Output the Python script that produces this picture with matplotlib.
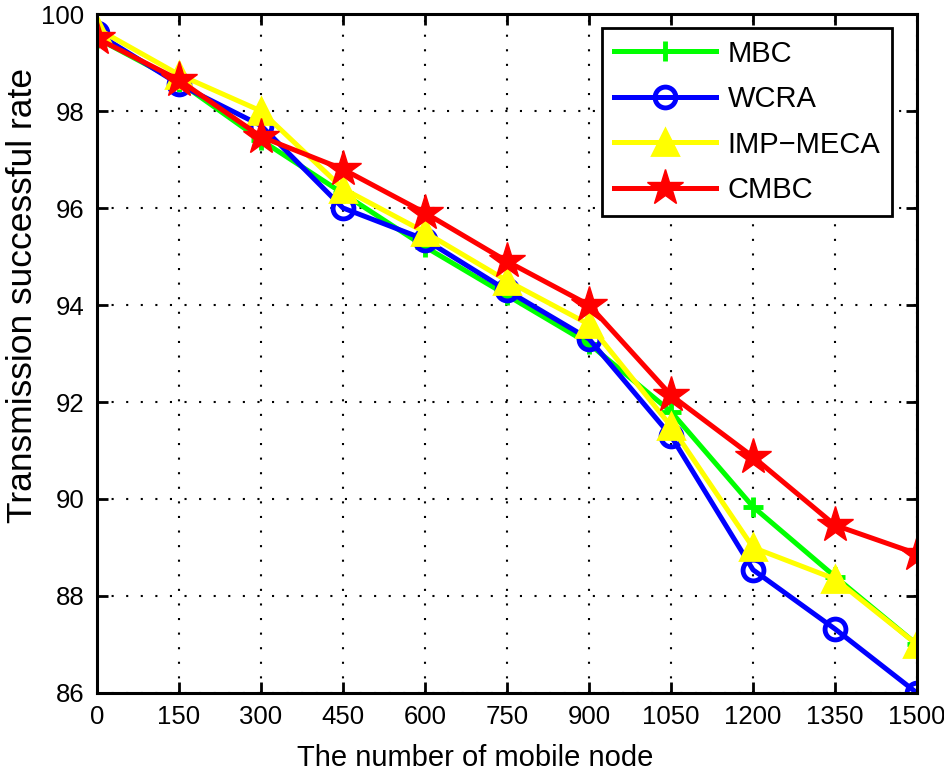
import matplotlib
matplotlib.use('Agg')
import matplotlib.pyplot as plt

plt.rcParams['font.family'] = ['Liberation Sans', 'DejaVu Sans']

# number of mobile nodes
nodes = [0, 150, 300, 450, 600, 750, 900, 1050, 1200, 1350, 1500]

# transmission successful rate per scheme
mbc = [99.5, 98.6, 97.4, 96.3, 95.2, 94.2, 93.2, 91.8, 89.84, 88.4, 87.0]
wcra = [99.6, 98.55, 97.7, 96.0, 95.35, 94.3, 93.3, 91.3, 88.54, 87.32, 86.0]
imp_meca = [99.7, 98.75, 98.0, 96.4, 95.5, 94.5, 93.6, 91.5, 89.0, 88.35, 87.0]
cmbc = [99.5, 98.64, 97.47, 96.8, 95.9, 94.9, 94.0, 92.14, 90.87, 89.46, 88.87]

fig = plt.figure(figsize=(9.44, 7.84), dpi=100)
ax = fig.add_axes([0.1028, 0.1161, 0.8686, 0.866])

lw = 3.6
ax.plot(nodes, mbc, color='#00ff00', lw=lw, marker='+', ms=15, mew=3.5, label='MBC')
ax.plot(nodes, wcra, color='#0000ff', lw=lw, marker='o', ms=15, mew=3.5,
        mfc='none', label='WCRA')
ax.plot(nodes, imp_meca, color='#ffff00', lw=lw, marker='^', ms=19, mew=2,
        label='IMP\u2212MECA')
ax.plot(nodes, cmbc, color='#ff0000', lw=lw, marker='*', ms=27, mew=1,
        label='CMBC')

ax.set_xlim(0, 1500)
ax.set_ylim(86, 100)
ax.set_xticks(nodes)
ax.set_yticks(range(86, 101, 2))
ax.tick_params(direction='in', length=8, width=2, labelsize=18.5,
               top=True, right=True, pad=9)
for s in ax.spines.values():
    s.set_linewidth(2.2)
ax.grid(True, color='black', linestyle=(0, (1, 6)), linewidth=1.5)

ax.set_xlabel('The number of mobile node', fontsize=21)
ax.set_ylabel('Transmission successful rate', fontsize=25.5)
ax.xaxis.set_label_coords(0.461, -0.075)
ax.yaxis.set_label_coords(-0.071, 0.585)

leg = ax.legend(loc='upper right', bbox_to_anchor=(0.9695, 0.9794),
                borderaxespad=0, fontsize=21, handlelength=3.5,
                fancybox=False, framealpha=1, edgecolor='black',
                labelspacing=0.6, handletextpad=0.4, borderpad=0.4)
leg.get_frame().set_linewidth(2)

fig.savefig('out.png', dpi=100)
